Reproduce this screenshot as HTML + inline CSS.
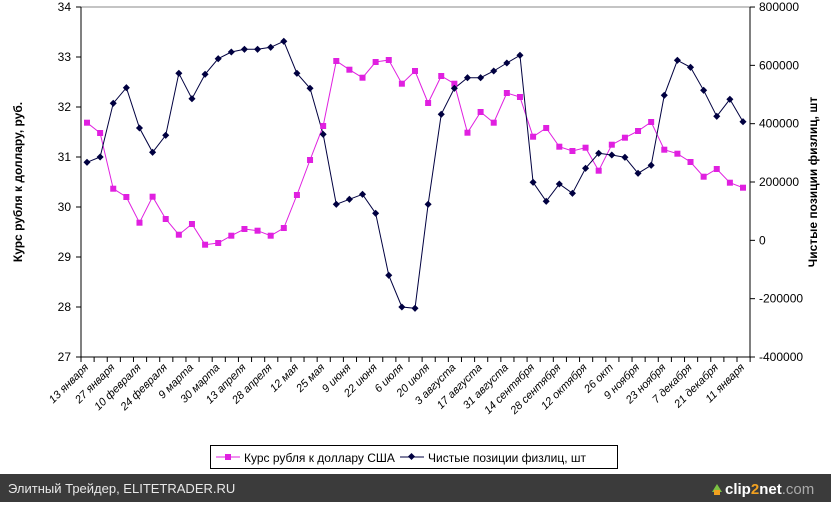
<!DOCTYPE html>
<html><head><meta charset="utf-8"><style>
body{margin:0;width:831px;height:502px;overflow:hidden;background:#fff;font-family:"Liberation Sans",sans-serif}
</style></head><body>
<svg width="831" height="502" xmlns="http://www.w3.org/2000/svg" font-family="Liberation Sans, sans-serif">
<rect width="831" height="502" fill="#fff"/>
<line x1="81" y1="7" x2="750" y2="7" stroke="#888" stroke-width="1"/>
<line x1="81" y1="7" x2="81" y2="357" stroke="#000"/>
<line x1="750" y1="7" x2="750" y2="357" stroke="#000"/>
<line x1="81" y1="357" x2="750" y2="357" stroke="#000"/>
<g id="ticks" stroke="#000"></g>
<g font-size="12" fill="#000" text-anchor="end" id="ly"></g>
<g font-size="12" fill="#000" text-anchor="start" id="ry"></g>
<text transform="translate(22,182) rotate(-90)" text-anchor="middle" font-size="12" font-weight="bold">Курс рубля к доллару, руб.</text>
<text transform="translate(817,182) rotate(-90)" text-anchor="middle" font-size="12" font-weight="bold">Чистые позиции физлиц, шт</text>
<polyline id="pink" fill="none" stroke="#e020e0" stroke-width="1"/>
<polyline id="navy" fill="none" stroke="#000040" stroke-width="1"/>
<g id="pm" fill="#e020e0"></g>
<g id="nm" fill="#000040"></g>
<g id="xl" font-size="11" font-style="italic" fill="#000" text-anchor="end"></g>
<rect x="210.5" y="445.5" width="407" height="23" fill="#fff" stroke="#000"/>
<line x1="216" y1="457" x2="240" y2="457" stroke="#e020e0"/><rect x="225" y="454" width="6" height="6" fill="#e020e0"/>
<text x="244" y="462" font-size="12">Курс рубля к доллару США</text>
<line x1="400" y1="457" x2="424" y2="457" stroke="#000040"/><rect x="409" y="454" width="5" height="5" fill="#000040" transform="rotate(45 411.5 456.5)"/>
<text x="428" y="462" font-size="12">Чистые позиции физлиц, шт</text>
<rect x="0" y="474" width="831" height="28" fill="#3b3b3b"/>
<text x="8" y="493" font-size="13" fill="#e8e8e8">Элитный Трейдер, ELITETRADER.RU</text>
<polygon points="712,492 717,484 722,492" fill="#7cc242"/>
<rect x="714" y="490" width="6" height="5" fill="#f0a020"/>
<text x="725" y="494" font-size="15" font-weight="bold" fill="#fff">clip<tspan fill="#f0a020">2</tspan>net<tspan fill="#aaa" font-weight="normal">.com</tspan></text>
</svg>
<script>
const ns="http://www.w3.org/2000/svg";
function el(p,t,a,txt){const e=document.createElementNS(ns,t);for(const k in a)e.setAttribute(k,a[k]);if(txt!=null)e.textContent=txt;document.getElementById(p).appendChild(e);}
for(let i=0;i<=51;i++){const x=81+i*13.12;el('ticks','line',{x1:x,y1:357,x2:x,y2:362});}
for(let v=27;v<=34;v++){const y=357-(v-27)*50;el('ticks','line',{x1:76,y1:y,x2:81,y2:y});el('ly','text',{x:71,y:y+4},v);}
for(let k=0;k<=6;k++){const v=-400000+k*200000;const y=357-k*58.33;el('ticks','line',{x1:750,y1:y,x2:755,y2:y});el('ry','text',{x:759,y:y+4},v);}
const P=[122.7,133,188.7,197,222.7,196.7,219,234.7,224,244.7,243,235.7,229,230.7,235.7,228,195,160,126,61,69.7,77.7,62,60,83.7,71,103,76,83.7,132.7,112,122.7,93,97,136.7,128,146.7,151,147.7,170.7,144.7,137.7,131,122,149.7,153.7,162,176.7,169,182.7,187.7];
const N=[162.3,157,103.3,87.7,128,152.3,135.3,73.3,98.7,74.3,58.7,52,49.3,49.3,47.3,41.3,73.3,88.3,134.3,204.3,199.3,194.3,213.3,275.3,307,308.3,204.3,114.3,88.3,77.7,77.7,71,63,55.3,182.3,201.3,184,193.3,168.3,153.3,155,157.3,173.3,165.3,95.3,60.3,67.3,90.3,116.3,99.3,121.7];
const X=i=>87+i*13.12;
document.getElementById('pink').setAttribute('points',P.map((y,i)=>X(i)+','+y).join(' '));
document.getElementById('navy').setAttribute('points',N.map((y,i)=>X(i)+','+y).join(' '));
P.forEach((y,i)=>el('pm','rect',{x:X(i)-3,y:y-3,width:6,height:6}));
N.forEach((y,i)=>el('nm','rect',{x:X(i)-2.5,y:y-2.5,width:5,height:5,transform:`rotate(45 ${X(i)} ${y})`}));
const L=["13 января","27 января","10 февраля","24 февраля","9 марта","30 марта","13 апреля","28 апреля","12 мая","25 мая","9 июня","22 июня","6 июля","20 июля","3 августа","17 августа","31 августа","14 сентября","28 сентября","12 октября","26 окт","9 ноября","23 ноября","7 декабря","21 декабря","11 января"];
L.forEach((t,i)=>{const x=X(2*i)+2,y=368;el('xl','text',{x:x,y:y,transform:`rotate(-45 ${x} ${y})`},t);});
</script>
</body></html>
